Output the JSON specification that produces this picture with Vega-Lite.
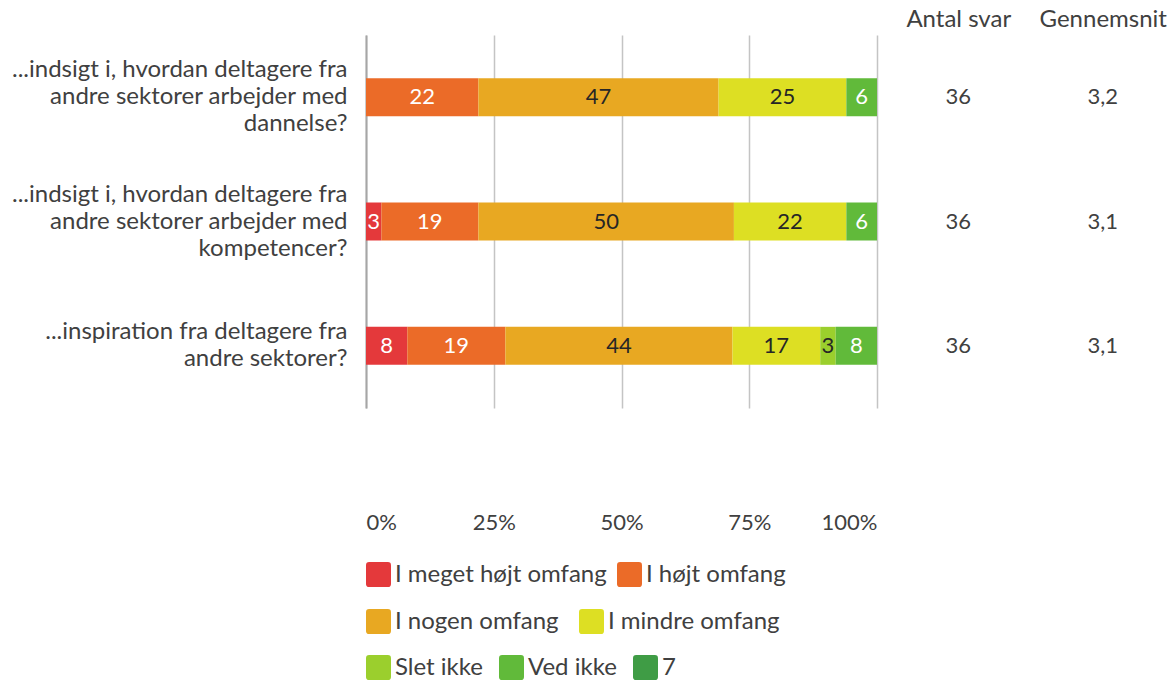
{
  "$schema": "https://vega.github.io/schema/vega-lite/v6.json",
  "padding": {"left": 5, "top": 7, "right": 0, "bottom": 0},
  "bounds": "flush",
  "spacing": 9,
  "config": {
    "font": "Lato",
    "view": {"stroke": null},
    "axis": {"labelFont": "Lato", "labelColor": "#404040", "labelFontSize": 24},
    "legend": {
      "labelFont": "Lato",
      "labelFontSize": 24,
      "labelColor": "#404040",
      "labelLimit": 400,
      "symbolType": "M-1,-0.75Q-1,-1,-0.75,-1L0.75,-1Q1,-1,1,-0.75L1,0.75Q1,1,0.75,1L-0.75,1Q-1,1,-1,0.75Z",
      "symbolSize": 625,
      "symbolStrokeWidth": 0,
      "labelOffset": 4,
      "columnPadding": 10,
      "padding": 0,
      "rowPadding": 0
    }
  },
  "datasets": {
    "bars": [
      {"q": "...indsigt i, hvordan deltagere fra|andre sektorer arbejder med|dannelse?", "cat": "I højt omfang", "k": 2, "v": 22},
      {"q": "...indsigt i, hvordan deltagere fra|andre sektorer arbejder med|dannelse?", "cat": "I nogen omfang", "k": 3, "v": 47},
      {"q": "...indsigt i, hvordan deltagere fra|andre sektorer arbejder med|dannelse?", "cat": "I mindre omfang", "k": 4, "v": 25},
      {"q": "...indsigt i, hvordan deltagere fra|andre sektorer arbejder med|dannelse?", "cat": "Ved ikke", "k": 6, "v": 6},
      {"q": "...indsigt i, hvordan deltagere fra|andre sektorer arbejder med|kompetencer?", "cat": "I meget højt omfang", "k": 1, "v": 3},
      {"q": "...indsigt i, hvordan deltagere fra|andre sektorer arbejder med|kompetencer?", "cat": "I højt omfang", "k": 2, "v": 19},
      {"q": "...indsigt i, hvordan deltagere fra|andre sektorer arbejder med|kompetencer?", "cat": "I nogen omfang", "k": 3, "v": 50},
      {"q": "...indsigt i, hvordan deltagere fra|andre sektorer arbejder med|kompetencer?", "cat": "I mindre omfang", "k": 4, "v": 22},
      {"q": "...indsigt i, hvordan deltagere fra|andre sektorer arbejder med|kompetencer?", "cat": "Ved ikke", "k": 6, "v": 6},
      {"q": "...inspiration fra deltagere fra|andre sektorer?", "cat": "I meget højt omfang", "k": 1, "v": 8},
      {"q": "...inspiration fra deltagere fra|andre sektorer?", "cat": "I højt omfang", "k": 2, "v": 19},
      {"q": "...inspiration fra deltagere fra|andre sektorer?", "cat": "I nogen omfang", "k": 3, "v": 44},
      {"q": "...inspiration fra deltagere fra|andre sektorer?", "cat": "I mindre omfang", "k": 4, "v": 17},
      {"q": "...inspiration fra deltagere fra|andre sektorer?", "cat": "Slet ikke", "k": 5, "v": 3},
      {"q": "...inspiration fra deltagere fra|andre sektorer?", "cat": "Ved ikke", "k": 6, "v": 8}
    ],
    "table": [
      {"q": "...indsigt i, hvordan deltagere fra|andre sektorer arbejder med|dannelse?", "col": "Antal svar", "val": "36"},
      {"q": "...indsigt i, hvordan deltagere fra|andre sektorer arbejder med|dannelse?", "col": "Gennemsnit", "val": "3,2"},
      {"q": "...indsigt i, hvordan deltagere fra|andre sektorer arbejder med|kompetencer?", "col": "Antal svar", "val": "36"},
      {"q": "...indsigt i, hvordan deltagere fra|andre sektorer arbejder med|kompetencer?", "col": "Gennemsnit", "val": "3,1"},
      {"q": "...inspiration fra deltagere fra|andre sektorer?", "col": "Antal svar", "val": "36"},
      {"q": "...inspiration fra deltagere fra|andre sektorer?", "col": "Gennemsnit", "val": "3,1"}
    ]
  },
  "hconcat": [
    {
      "width": 511,
      "height": 373,
      "data": {"name": "bars"},
      "transform": [
        {"stack": "v", "groupby": ["q"], "sort": [{"field": "k", "order": "ascending"}], "offset": "normalize", "as": ["x0", "x1"]}
      ],
      "encoding": {
        "y": {
          "field": "q", "type": "nominal",
          "scale": {"domain": ["...indsigt i, hvordan deltagere fra|andre sektorer arbejder med|dannelse?", "...indsigt i, hvordan deltagere fra|andre sektorer arbejder med|kompetencer?", "...inspiration fra deltagere fra|andre sektorer?"], "paddingInner": 0, "paddingOuter": 0},
          "axis": {"title": null, "labelExpr": "split(datum.label, '|')", "labelLineHeight": 27, "labelPadding": 19, "labelLimit": 500,
            "labelOffset": {"condition": {"test": "length(split(datum.value, '|')) == 3", "value": -27}, "value": -13.5},
            "ticks": false, "domain": true, "domainColor": "#A6A6A6", "domainWidth": 2, "minExtent": 361}
        }
      },
      "layer": [
        {
          "transform": [{"filter": "datum.k <= 2"}],
          "mark": {"type": "bar", "size": 38},
          "encoding": {
            "x": {"field": "x0", "type": "quantitative", "scale": {"domain": [0, 1], "nice": false},
              "axis": {"title": null, "values": [0, 0.25, 0.5, 0.75, 1], "format": ".0%", "domain": false, "ticks": false, "grid": true, "gridColor": "#C4C4C4", "gridWidth": 1.5, "labelPadding": 104, "labelFlush": true, "labelFontSize": 22}},
            "x2": {"field": "x1"},
            "color": {"field": "cat", "type": "nominal",
              "scale": {"domain": ["I meget højt omfang", "I højt omfang"], "range": ["#E4393B", "#EB6B28"]},
              "legend": {"orient": "none", "legendX": 0, "legendY": 527, "direction": "horizontal", "title": null}}
          }
        },
        {
          "transform": [{"filter": "datum.k == 3 || datum.k == 4"}],
          "mark": {"type": "bar", "size": 38},
          "encoding": {
            "x": {"field": "x0", "type": "quantitative", "scale": {"domain": [0, 1], "nice": false},
              "axis": {"title": null, "values": [0, 0.25, 0.5, 0.75, 1], "format": ".0%", "domain": false, "ticks": false, "grid": true, "gridColor": "#C4C4C4", "gridWidth": 1.5, "labelPadding": 104, "labelFlush": true, "labelFontSize": 22}},
            "x2": {"field": "x1"},
            "color": {"field": "cat", "type": "nominal",
              "scale": {"domain": ["I nogen omfang", "I mindre omfang"], "range": ["#E8A822", "#DDDF23"]},
              "legend": {"orient": "none", "legendX": 0, "legendY": 574, "direction": "horizontal", "title": null, "columnPadding": 20}}
          }
        },
        {
          "transform": [{"filter": "datum.k >= 5"}],
          "mark": {"type": "bar", "size": 38},
          "encoding": {
            "x": {"field": "x0", "type": "quantitative", "scale": {"domain": [0, 1], "nice": false},
              "axis": {"title": null, "values": [0, 0.25, 0.5, 0.75, 1], "format": ".0%", "domain": false, "ticks": false, "grid": true, "gridColor": "#C4C4C4", "gridWidth": 1.5, "labelPadding": 104, "labelFlush": true, "labelFontSize": 22}},
            "x2": {"field": "x1"},
            "color": {"field": "cat", "type": "nominal",
              "scale": {"domain": ["Slet ikke", "Ved ikke", "7"], "range": ["#9BCF2D", "#61BA3A", "#3F9C45"]},
              "legend": {"orient": "none", "legendX": 0, "legendY": 620, "direction": "horizontal", "title": null, "columnPadding": 16}}
          }
        },
        {
          "transform": [{"calculate": "(datum.x0 + datum.x1) / 2", "as": "xm"}],
          "mark": {"type": "text", "fontSize": 22, "font": "Lato"},
          "encoding": {
            "x": {"field": "xm", "type": "quantitative", "scale": {"domain": [0, 1], "nice": false},
              "axis": {"title": null, "values": [0, 0.25, 0.5, 0.75, 1], "format": ".0%", "domain": false, "ticks": false, "grid": true, "gridColor": "#C4C4C4", "gridWidth": 1.5, "labelPadding": 104, "labelFlush": true, "labelFontSize": 22}},
            "text": {"field": "v", "type": "quantitative"},
            "color": {"condition": {"test": "datum.k <= 2 || datum.k == 6", "value": "#FFFFFF"}, "value": "#262626"}
          }
        }
      ],
      "resolve": {"scale": {"color": "independent"}}
    },
    {
      "width": 289,
      "height": 373,
      "data": {"name": "table"},
      "mark": {"type": "text", "fontSize": 22, "font": "Lato", "color": "#404040"},
      "encoding": {
        "x": {"field": "col", "type": "nominal",
          "scale": {"domain": ["Antal svar", "Gennemsnit"], "paddingInner": 0, "paddingOuter": 0},
          "axis": {"orient": "top", "title": null, "domain": false, "ticks": false, "labelAngle": 0, "labelPadding": 4}},
        "y": {"field": "q", "type": "nominal",
          "scale": {"domain": ["...indsigt i, hvordan deltagere fra|andre sektorer arbejder med|dannelse?", "...indsigt i, hvordan deltagere fra|andre sektorer arbejder med|kompetencer?", "...inspiration fra deltagere fra|andre sektorer?"], "paddingInner": 0, "paddingOuter": 0},
          "axis": null},
        "text": {"field": "val"}
      }
    }
  ]
}
